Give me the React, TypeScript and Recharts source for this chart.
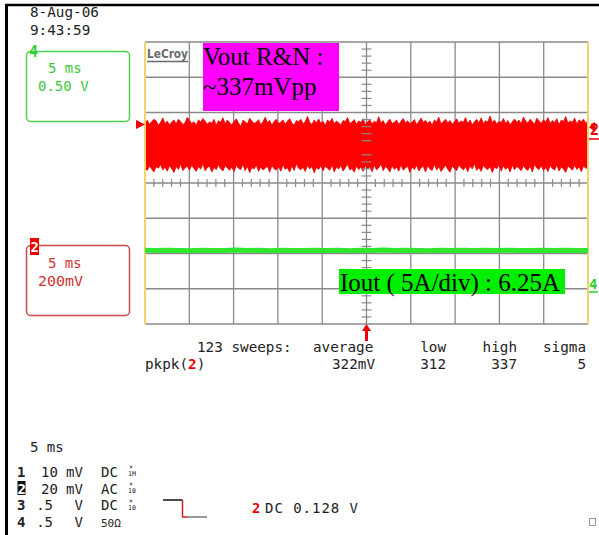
import React from "react";
import { ComposedChart, XAxis, YAxis, CartesianGrid, Area, Line, ReferenceLine } from "recharts";

// Channel 2 (Vout ripple & noise, mV, 200 mV/div) envelope samples: high / low per sample
const ch2High = [
  341,356,333,348,361,352,327,344,369,338,351,329,346,358,335,362,349,331,343,372,
  355,337,348,326,359,344,366,351,334,347,339,361,328,353,345,370,336,357,342,330,
  349,364,340,322,356,347,335,368,352,338,344,359,331,348,373,343,355,327,350,362,
  337,346,358,333,351,365,340,328,354,347,361,336,349,378,345,332,357,341,363,339,
  350,326,358,344,367,336,352,341,329,355,348,371,338,346,360,333,352,343,365,330,
  347,359,335,351,342,376,339,354,328,348,362,337,345,357,332,350,366,341,353,336,
  345,360,331,349,368,343,356,338,351,327,358,346,373,335,349,362,340,355,333,347,
  364,339,352,344,371,336,357,330,348,361,342,369,337,353,346,380,341,358,334,350,
  343,366,338,355,329,348,363,345,357,336,374,351,340,362,347,333,368,352,339,359,
  346,371,337,354,342,365,331,357,349,377,340,352,344,368,335,358,347,362,338,356,
];
const ch2Low = [
  88,71,96,79,63,92,84,105,74,90,67,99,81,60,94,77,108,70,86,95,
  73,101,82,66,93,78,110,69,87,97,62,89,75,104,80,68,98,85,72,91,
  64,100,83,76,107,70,94,59,88,79,102,66,91,74,84,96,61,99,81,73,
  93,67,104,78,86,62,97,71,109,83,75,90,65,101,80,94,58,88,77,98,
  69,95,84,72,103,63,91,79,99,68,87,106,74,82,61,97,76,89,66,100,
  79,92,64,101,75,86,108,70,94,81,63,98,77,90,67,104,73,85,96,60,
  91,76,102,68,87,95,62,99,80,71,107,74,93,65,84,100,78,61,96,82,
  70,103,86,74,92,64,98,79,110,72,88,66,101,83,76,94,59,90,81,105,
  67,97,78,89,63,102,75,93,84,69,100,80,72,95,62,106,85,77,98,71,
  88,65,99,82,74,104,68,91,79,60,96,86,73,101,77,92,64,97,83,89,
];
// Channel 4 (Iout, V at 0.5 V/div)
const ch4Values = [
  -0.955,-0.958,-0.953,-0.957,-0.960,-0.954,-0.956,-0.959,-0.952,-0.957,
  -0.955,-0.961,-0.954,-0.956,-0.958,-0.953,-0.957,-0.955,-0.960,-0.954,
  -0.956,-0.952,-0.958,-0.955,-0.957,-0.960,-0.953,-0.956,-0.954,-0.958,
  -0.955,-0.957,-0.953,-0.959,-0.956,-0.954,-0.957,-0.955,-0.958,-0.956,
];
const timeTicks = [0, 5, 10, 15, 20, 25, 30, 35, 40, 45, 50]; // ms, 5 ms/div
const mvTicks = [-800, -600, -400, -200, 0, 200, 400, 600, 800]; // 200 mV/div

const ch2Data = ch2High.map((h, i) => ({ t: (i * 50) / (ch2High.length - 1), r: [ch2Low[i], h] }));
const ch4Data = ch4Values.map((v, i) => ({ t: (i * 50) / (ch4Values.length - 1), v }));

const minorY: number[] = [];
for (let k = -20; k <= 20; k++) if (k % 5 !== 0) minorY.push(k * 40);
const minorX: number[] = [];
for (let k = 0; k <= 50; k++) if (k % 5 !== 0) minorX.push(k);

const mono = "'DejaVu Sans Mono', monospace";
const serif = "'Liberation Serif', 'Times New Roman', serif";
const GRID = "#8a8a8a";
const YEL = "#f2d46a";

export default function App() {
  return (
    <div style={{ position: "absolute", left: 0, top: 0, width: 599, height: 535, background: "#fff" }}>
      <ComposedChart width={599} height={535} margin={{ top: 42, right: 11, bottom: 211, left: 145 }}>
        <XAxis dataKey="t" type="number" domain={[0, 50]} ticks={timeTicks} hide />
        <YAxis yAxisId="mv" type="number" domain={[-800, 800]} ticks={mvTicks} hide />
        <YAxis yAxisId="v4" type="number" domain={[-2, 2]} hide />
        <CartesianGrid yAxisId="mv" stroke={GRID} strokeWidth={1.3} />
        {minorY.map((y) => (
          <ReferenceLine key={"my" + y} yAxisId="mv" segment={[{ x: 24.45, y }, { x: 25.55, y }]} stroke={GRID} strokeWidth={1.2} ifOverflow="visible" />
        ))}
        {minorX.map((x) => (
          <ReferenceLine key={"mx" + x} yAxisId="mv" segment={[{ x, y: -22 }, { x, y: 22 }]} stroke={GRID} strokeWidth={1.2} ifOverflow="visible" />
        ))}
        <ReferenceLine yAxisId="mv" x={0} stroke={YEL} strokeWidth={2} />
        <ReferenceLine yAxisId="mv" x={50} stroke={YEL} strokeWidth={2} />
        <Area data={ch2Data} yAxisId="mv" dataKey="r" type="linear" stroke="#e80000" strokeWidth={0.8} fill="#ff0000" fillOpacity={1} isAnimationActive={false} dot={false} activeDot={false} />
        <Line data={ch4Data} yAxisId="v4" dataKey="v" type="linear" stroke="#2ee62e" strokeWidth={5} dot={false} activeDot={false} isAnimationActive={false} />
      </ComposedChart>
      <svg width={599} height={535} style={{ position: "absolute", left: 0, top: 0, pointerEvents: "none" }}>
        {/* frame */}
        <line x1={5} y1={5} x2={599} y2={5} stroke="#000" strokeWidth={2.5} />
        <line x1={6.5} y1={4} x2={6.5} y2={535} stroke="#000" strokeWidth={3} />
        <g fontFamily={mono} fontSize={14.3} fill="#222">
          <text x={30} y={17}>8-Aug-06</text>
          <text x={30} y={35}>9:43:59</text>
        </g>
        {/* channel 4 box */}
        <rect x={26.5} y={51.5} width={103} height={70} rx={4} fill="none" stroke="#4fd04f" strokeWidth={1.5} />
        <text x={29} y={57} fontFamily={mono} fontSize={15} fontWeight="bold" fill="#2fd02f">4</text>
        <g fontFamily={mono} fontSize={14} fill="#3cc83c">
          <text x={48} y={73}>5 ms</text>
          <text x={38} y={91}>0.50 V</text>
        </g>
        {/* channel 2 box */}
        <rect x={26.5} y={245.5} width={103} height={70} rx={4} fill="none" stroke="#cc4a4a" strokeWidth={1.5} />
        <rect x={30} y={238} width={9} height={17} fill="#ee0000" />
        <text x={30.5} y={252} fontFamily={mono} fontSize={14} fontWeight="bold" fill="#fff">2</text>
        <g fontFamily={mono} fontSize={14} fill="#cc3333">
          <text x={48} y={268}>5 ms</text>
          <text x={38} y={286} textLength={45} lengthAdjust="spacingAndGlyphs">200mV</text>
        </g>
        {/* LeCroy logo */}
        <text x={147} y={58} fontFamily="'DejaVu Sans', sans-serif" fontSize={13} fontWeight="bold" fill="#6a6a6a" textLength={41} lengthAdjust="spacingAndGlyphs">LeCroy</text>
        <line x1={147} y1={61.5} x2={188} y2={61.5} stroke="#6a6a6a" strokeWidth={1.5} />
        {/* annotations */}
        <rect x={203} y={43} width={136} height={68} fill="#ff00ff" />
        <g fontFamily={serif} fontSize={25} fill="#000">
          <text x={203} y={65}>Vout R&amp;N :</text>
          <text x={203} y={95}>~337mVpp</text>
        </g>
        <rect x={339} y={269} width={226} height={25} fill="#00ee00" />
        <text x={340} y={291} fontFamily={serif} fontSize={25} fill="#000">Iout ( 5A/div) : 6.25A</text>
        {/* markers */}
        <polygon points="136,120 145,124.5 136,129" fill="#ee0000" />
        <polygon points="589,127 595,122 595,132" fill="#ee0000" />
        <text x={590} y={135} fontFamily={mono} fontSize={15} fontWeight="bold" fill="#ee0000">2</text>
        <line x1={589} y1={139} x2={599} y2={139} stroke="#ee0000" strokeWidth={1.5} />
        <text x={589} y={289} fontFamily={mono} fontSize={14} fontWeight="bold" fill="#2fd02f">4</text>
        <line x1={589} y1={292} x2={598} y2={292} stroke="#2fd02f" strokeWidth={1.5} />
        <polygon points="366.5,324 362,331 371,331" fill="#ee0000" />
        <line x1={366.5} y1={330} x2={366.5} y2={341} stroke="#ee0000" strokeWidth={3} />
        {/* measurement */}
        <g fontFamily={mono} fontSize={14.3} fill="#222">
          <text x={197} y={352}>123 sweeps:</text>
          <text x={313} y={352}>average</text>
          <text x={446} y={352} textAnchor="end">low</text>
          <text x={517} y={352} textAnchor="end">high</text>
          <text x={586} y={352} textAnchor="end">sigma</text>
          <text x={145} y={369}>pkpk(<tspan fill="#ee0000" fontWeight="bold">2</tspan>)</text>
          <text x={375} y={369} textAnchor="end">322mV</text>
          <text x={446} y={369} textAnchor="end">312</text>
          <text x={517} y={369} textAnchor="end">337</text>
          <text x={586} y={369} textAnchor="end">5</text>
        </g>
        {/* bottom channel table */}
        <g fontFamily={mono} fontSize={14} fill="#222">
          <text x={30} y={452}>5 ms</text>
          <text x={17} y={477} fontWeight="bold">1</text>
          <text x={41} y={477}>10</text>
          <text x={66} y={477}>mV</text>
          <text x={101} y={477}>DC</text>
          <rect x={17.5} y={481} width={8} height={14} fill="#111" />
          <text x={17.5} y={494} fontWeight="bold" fill="#fff">2</text>
          <text x={41} y={494}>20</text>
          <text x={66} y={494}>mV</text>
          <text x={101} y={494}>AC</text>
          <text x={17} y={510} fontWeight="bold">3</text>
          <text x={53} y={510} textAnchor="end">.5</text>
          <text x={83} y={510} textAnchor="end">V</text>
          <text x={101} y={510}>DC</text>
          <text x={17} y={527} fontWeight="bold">4</text>
          <text x={53} y={527} textAnchor="end">.5</text>
          <text x={83} y={527} textAnchor="end">V</text>
          <text x={101} y={527} fontSize={11}>50Ω</text>
          <text x={252} y={513} fontWeight="bold" fill="#ee0000">2</text>
          <text x={265} y={513} textLength={93} lengthAdjust="spacing">DC 0.128 V</text>
        </g>
        <g fontFamily={mono} fontSize={6.5} fill="#222">
          <text x={129} y={469}>×</text>
          <text x={128} y={476}>1M</text>
          <text x={129} y={486}>×</text>
          <text x={128} y={493}>10</text>
          <text x={129} y={503}>×</text>
          <text x={128} y={510}>10</text>
        </g>
        {/* trigger symbol */}
        <polyline points="163,500 182.5,500" fill="none" stroke="#111" strokeWidth={1.5} />
        <polyline points="182.5,500 182.5,517 188,517" fill="none" stroke="#cc2222" strokeWidth={1.5} />
        <line x1={188} y1={517} x2={207} y2={517} stroke="#777" strokeWidth={1.5} />
        <rect x={589.5} y={518.5} width={6} height={7} fill="none" stroke="#999" strokeWidth={1} />
      </svg>
    </div>
  );
}
